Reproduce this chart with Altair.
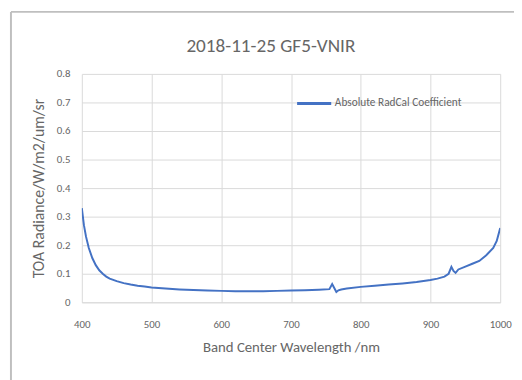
import altair as alt
import pandas as pd

wavelength = [400, 403, 406, 410, 415, 420, 425, 430, 435, 440, 450, 460, 470, 480, 490,
              500, 520, 540, 560, 580, 600, 620, 640, 660, 680, 700, 720, 740, 755, 759,
              762, 765, 768, 772, 780, 800, 820, 840, 860, 880, 900, 910, 920, 926, 930,
              933, 936, 940, 950, 960, 970, 980, 990, 995, 1000]
radiance = [0.33, 0.27, 0.23, 0.19, 0.155, 0.13, 0.112, 0.1, 0.09, 0.083, 0.074, 0.067, 0.062, 0.058, 0.055,
            0.052, 0.048, 0.045, 0.043, 0.041, 0.04, 0.039, 0.039, 0.039, 0.04, 0.041, 0.042, 0.044, 0.046, 0.064,
            0.05, 0.036, 0.042, 0.045, 0.048, 0.054, 0.058, 0.062, 0.066, 0.071, 0.078, 0.083, 0.09, 0.1, 0.124,
            0.11, 0.103, 0.115, 0.125, 0.135, 0.145, 0.165, 0.19, 0.215, 0.26]
series_name = "Absolute RadCal Coefficient"
title_text = "2018-11-25 GF5-VNIR"
x_title = "Band Center Wavelength /nm"
y_title = "TOA Radiance/W/m2/um/sr"

df = pd.DataFrame({"wl": wavelength, "rad": radiance, "series": series_name})
title_df = pd.DataFrame({"t": [title_text]})

FONT = "Calibri, Carlito, Roboto, sans-serif"
GRAY = "#666666"

line = alt.Chart(df).mark_line(strokeWidth=2, clip=True).encode(
    x=alt.X("wl:Q", scale=alt.Scale(domain=[400, 1000], nice=False),
            axis=alt.Axis(values=[400, 500, 600, 700, 800, 900, 1000], format="d", title=x_title,
                          grid=True, gridColor="#d9d9d9", domain=True, domainColor="#d9d9d9",
                          ticks=False, labelPadding=17, titlePadding=10, labelFlush=False,
                          labelColor=GRAY, titleColor=GRAY, labelFontSize=11,
                          titleFontSize=15, titleFontWeight="normal",
                          labelFont=FONT, titleFont=FONT)),
    y=alt.Y("rad:Q", scale=alt.Scale(domain=[0, 0.8], nice=False),
            axis=alt.Axis(values=[0, 0.1, 0.2, 0.3, 0.4, 0.5, 0.6, 0.7, 0.8], format="~g",
                          title=y_title, grid=True, gridColor="#d9d9d9", domain=False,
                          ticks=False, labelPadding=12, titlePadding=10, labelFlush=False,
                          labelColor=GRAY, titleColor=GRAY, labelFontSize=11,
                          titleFontSize=16, titleFontWeight="normal",
                          labelFont=FONT, titleFont=FONT)),
    color=alt.Color("series:N", scale=alt.Scale(range=["#4472C4"]),
                    legend=alt.Legend(title=None, orient="none", legendX=217, legendY=11,
                                      symbolType="stroke", symbolSize=1200, symbolStrokeWidth=3,
                                      labelFontSize=11.5, labelColor=GRAY, labelFont=FONT,
                                      labelOffset=2)),
)

title_mark = alt.Chart(title_df).mark_text(
    fontSize=19.5, color=GRAY, font=FONT, align="center", baseline="middle").encode(
    text="t:N", x=alt.value(192), y=alt.value(-28))

frame_left = alt.Chart(title_df).mark_rule(color="#bfbfbf", strokeWidth=2, clip=False).encode(
    x=alt.value(-72), y=alt.value(-63), y2=alt.value(320))
frame_top = alt.Chart(title_df).mark_rule(color="#bfbfbf", strokeWidth=2, clip=False).encode(
    x=alt.value(-72), x2=alt.value(450), y=alt.value(-63))

chart = alt.layer(frame_left, frame_top, title_mark, line).properties(
    width=425, height=232,
    autosize=alt.AutoSizeParams(type="none"),
    padding={"left": 75, "top": 64, "right": 14, "bottom": 76},
).configure_view(stroke=None)

chart.save("out.html", embed_options={"renderer": "svg", "actions": False})
